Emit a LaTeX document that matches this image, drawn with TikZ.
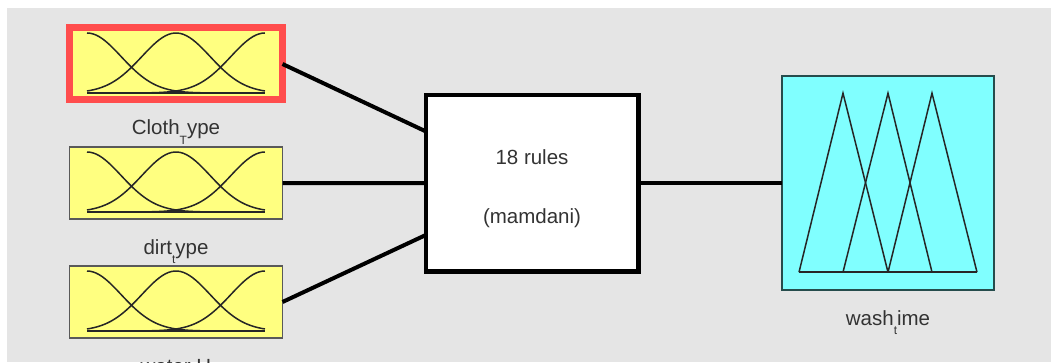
\documentclass[tikz,border=0pt]{standalone}
\usepackage{fontspec}
\setmainfont{Liberation Sans}
\usetikzlibrary{positioning}
\definecolor{mfyellow}{RGB}{255,255,128}
\definecolor{mfred}{RGB}{255,77,77}
\definecolor{mfcyan}{RGB}{128,255,255}
\definecolor{figgray}{RGB}{229,229,229}
\definecolor{txtgray}{RGB}{51,51,51}
\newcommand{\lowsub}[1]{\raisebox{-9.5pt}{\fontsize{12}{12}\selectfont #1}}

\begin{document}
\begin{tikzpicture}[x=1pt,y=1pt]
\tikzstyle{inbox} = [draw=black!65,fill=mfyellow,line width=1.8pt,shape=rectangle,inner sep=0pt,outer sep=0pt,minimum width=213pt,minimum height=72pt,node distance=119pt]
\tikzstyle{rulebox} = [draw=black,fill=white,line width=4.5pt,shape=rectangle,inner sep=0pt,outer sep=0pt,minimum width=212.5pt,minimum height=176.5pt]
\tikzstyle{outbox} = [draw=black!70!mfcyan,fill=mfcyan,line width=1.8pt,shape=rectangle,inner sep=0pt,outer sep=0pt,minimum width=212pt,minimum height=214pt,node distance=356pt]
\tikzstyle{lbl} = [anchor=base,label distance=35pt,inner sep=0pt,text=txtgray,font=\fontsize{20.5}{24}\selectfont]
\tikzstyle{ruletxt} = [anchor=base,inner sep=0pt,text=txtgray,font=\fontsize{20.5}{24}\selectfont]
\tikzstyle{conn} = [draw=black,line width=4pt]
\tikzstyle{mfline} = [draw=black!85,line width=1.5pt,line join=miter]

\fill[white] (0,0) rectangle (1051,362);
\fill[figgray] (7,0) rectangle (1051,354);
\useasboundingbox (0,0) rectangle (1051,362);

\node[inbox,draw=mfred,line width=7pt,label={[lbl]below:Cloth\lowsub{T}ype}] (in1) at (176,298) {};
\node[inbox,below of=in1,label={[lbl]below:dirt\lowsub{t}ype}] (in2) {};
\node[inbox,below of=in2,label={[lbl]below:water H}] (in3) {};

\node[rulebox] (rules) at (532,178.8) {};
\node[ruletxt] (rnum) at ([yshift=19pt]rules.center) {18 rules};
\node[ruletxt] (rtype) at ([yshift=-40pt]rules.center) {(mamdani)};

\node[outbox,right of=rules,label={[lbl]below:wash\lowsub{t}ime}] (out) {};

% membership functions of the inputs
\foreach \b in {in1,in2,in3}{
  \begin{scope}[shift={(\b.center)}]
  \foreach \c in {-1,0,1}
    \draw[mfline] plot[domain=-1:1,samples=60,smooth] ({89*\x},{-29+60*exp(-((\x-(\c))^2)/0.295)});
  \draw[mfline] (-89,-29) -- (89,-29);
  \end{scope}
}

% membership functions of the output
\begin{scope}[shift={(out.center)}]
\draw[mfline] (-89,-89) -- (-45,90) -- (0,-89);
\draw[mfline] (-45,-89) -- (0,90) -- (44,-89);
\draw[mfline] (0,-89) -- (44,90) -- (89,-89);
\draw[mfline] (-89,-89) -- (89,-89);
\end{scope}

\draw[conn] (in1.east) -- (rules.154);
\draw[conn] (in2.east) -- (rules.west);
\draw[conn] (in3.east) -- (rules.206);
\draw[conn] (rules.east) -- (out.west);
\end{tikzpicture}
\end{document}
